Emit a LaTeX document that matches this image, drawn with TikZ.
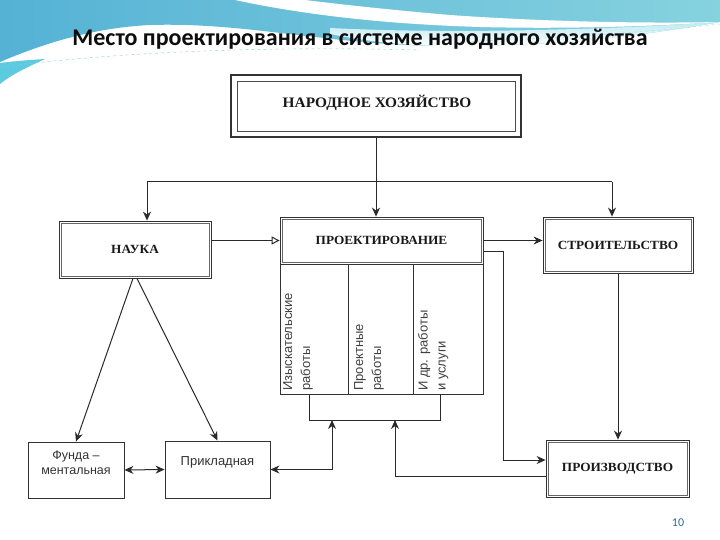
\documentclass[tikz,border=0pt]{standalone}
\usepackage{fontspec}
\setmainfont{Carlito}
\newfontfamily\capsfont[FakeStretch=1.06]{Liberation Serif}
\newfontfamily\scanfont{Liberation Sans}
\usetikzlibrary{arrows.meta,calc}
\definecolor{bandL}{HTML}{55B2D5}
\definecolor{bandR}{HTML}{86D2DF}
\definecolor{bandLight}{HTML}{BDE9F0}
\definecolor{wedge}{HTML}{5CCBDF}
\definecolor{pgnum}{HTML}{2A6E8C}
\definecolor{ink}{HTML}{2A2A2A}
\begin{document}
\begin{tikzpicture}[x=1pt,y=-1pt,
  line/.style={draw=ink, line width=1pt},
  arr/.style={line, -{Stealth[length=9pt,width=8pt]}},
  arrtwo/.style={line, {Stealth[length=9pt,width=8pt]}-{Stealth[length=9pt,width=8pt]}},
  oarr/.style={line, -{Triangle[open,length=8pt,width=8pt]}},
  box/.style={draw=black!80, line width=0.8pt, inner sep=0pt,
    path picture={\draw[black!60, line width=0.6pt]
      ([shift={(2.2pt,-2.2pt)}]path picture bounding box.north west) rectangle
      ([shift={(-2.2pt,2.2pt)}]path picture bounding box.south east);}},
  colbox/.style={draw=black!80, line width=0.9pt, inner sep=0pt},
  caps/.style={font=\capsfont\bfseries\fontsize{12.5}{14}\selectfont, text=black!90},
  scan/.style={font=\scanfont\fontsize{12.5}{15}\selectfont, text=black!80},
  coltext/.style={font=\scanfont\fontsize{13}{18}\selectfont, text=black!75, rotate=90, align=left, anchor=north west, inner sep=0pt}
]
\useasboundingbox (0,0) rectangle (720,540);
\fill[white] (0,0) rectangle (720,540);
% background waves
\shade[left color=bandL, right color=bandR] (0,0) -- (720,0) -- (720,22)
  .. controls (640,36) and (560,46) .. (450,46)
  .. controls (330,46) and (250,22) .. (150,25)
  .. controls (90,28) and (40,45) .. (0,62) -- cycle;
\shade[top color=bandLight, bottom color=white] (330,28)
  .. controls (450,34) and (600,30) .. (720,22)
  .. controls (640,36) and (560,46) .. (450,46)
  .. controls (400,46) and (360,40) .. (330,34) -- cycle;
\fill[white] (235,0) .. controls (300,14) and (380,24) .. (480,27)
  .. controls (560,29) and (640,27) .. (720,22)
  .. controls (620,24) and (520,20) .. (450,15)
  .. controls (380,9) and (330,3) .. (305,0) -- cycle;
\fill[wedge] (0,63) .. controls (15,61) and (30,60) .. (45,59)
  .. controls (30,66) and (12,74) .. (0,84) -- cycle;
\draw[bandL!70, dashed, line width=0.4pt] (0,67) .. controls (120,52) and (260,46) .. (420,50);
\draw[bandR!80, dashed, line width=0.4pt] (460,42) .. controls (560,38) and (650,32) .. (720,24);
% title
\node[anchor=base, font=\bfseries\fontsize{24}{28}\selectfont, text=black!95] (title) at (360,46)
  {Место проектирования в системе народного хозяйства};
% main boxes
\node[draw=black!80, line width=2.4pt, minimum width=290pt, minimum height=62pt, inner sep=0pt] (nx) at (376,106) {};
\draw[black!70, line width=0.7pt] (237,81) rectangle (515,131);
\node[caps, font=\capsfont\bfseries\fontsize{14.5}{16}\selectfont] (nxt) at (377,103) {НАРОДНОЕ ХОЗЯЙСТВО};
\node[box, caps, minimum width=152pt, minimum height=57pt] (nauka) at (135,249.5) {НАУКА};
\node[box, caps, minimum width=203pt, minimum height=47pt] (projh) at (381.5,240.5) {ПРОЕКТИРОВАНИЕ};
\node[colbox, minimum width=68pt, minimum height=130pt] (c1) at (314,329) {};
\node[colbox, minimum width=65pt, minimum height=130pt] (c2) at (380.5,329) {};
\node[colbox, minimum width=70pt, minimum height=130pt] (c3) at (448,329) {};
\node[coltext] (t1) at (283,391) {Изыскательские\\работы};
\node[coltext] (t2) at (354,391) {Проектные\\работы};
\node[coltext] (t3) at (418,391) {И др. работы\\и услуги};
\node[box, caps, minimum width=150pt, minimum height=56pt] (stroy) at (618,245) {СТРОИТЕЛЬСТВО};
\node[box, caps, minimum width=143pt, minimum height=57pt] (proizv) at (617.5,468.5) {ПРОИЗВОДСТВО};
\node[colbox, minimum width=96pt, minimum height=56pt] (fund) at (76,470) {};
\node[scan, align=center] (fundt) at (76,463) {Фунда –\\ментальная};
\node[colbox, minimum width=105pt, minimum height=57pt] (prikl) at (217.5,469.5) {};
\node[scan, font=\scanfont\fontsize{13}{15}\selectfont] (priklt) at (217.5,462) {Прикладная};
% connectors
\coordinate (nl) at (147,182);
\coordinate (nr) at (612,182);
\draw[arr] (nx.south) -- (nx.south |- projh.north);
\draw[line] (nl) -- (nr);
\draw[arr] (nl) -- (nl |- nauka.north);
\draw[arr] (nr) -- (nr |- stroy.north);
\draw[oarr] (nauka.east |- projh.west) -- (projh.west);
\draw[arr] (projh.east) -- (stroy.west |- projh.east);
\coordinate (pa) at (483,251);
\coordinate (pb) at (503,460);
\draw[arr] (pa) -| (pb) -- (proizv.west |- pb);
\draw[arr] (stroy.south) -- (stroy.south |- proizv.north);
\coordinate (bl) at (309,420);
\coordinate (br) at (440,420);
\draw[line] (bl |- c1.south) -- (bl) -- (br) -- (br |- c3.south);
\coordinate (u1) at (332,420);
\coordinate (u2) at (395,420);
\coordinate (pw) at (546,476);
\draw[arr] (pw) -| (u2);
\draw[arrtwo] (prikl.east) -| (u1);
\draw[arrtwo] (fund.east) -- (prikl.west);
\draw[arr] ($(nauka.south)+(-2,0)$) -- (fund.north);
\draw[arr] ($(nauka.south)+(2,0)$) -- (prikl.north);
% page number
\node[font=\fontsize{12}{14}\selectfont, text=pgnum] (pg) at (678,523) {10};
\end{tikzpicture}
\end{document}
